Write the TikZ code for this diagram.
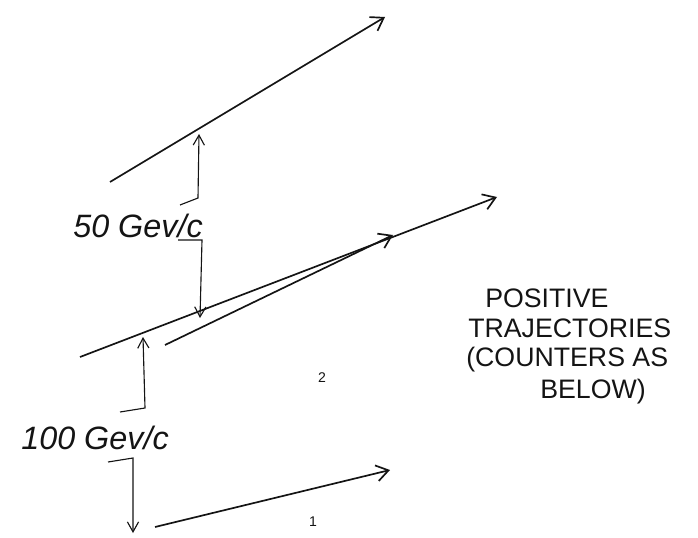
\documentclass[tikz,border=0pt]{standalone}
\usepackage{fontspec}
\setsansfont{Liberation Sans}
\usepackage{tikz}
\usetikzlibrary{arrows.meta,positioning,calc}
\definecolor{ink}{RGB}{20,20,20}
\tikzset{
  track/.style={-{Straight Barb[length=3mm,width=4mm]}, line width=1.2pt, draw=ink},
  gap/.style={-{Straight Barb[length=2.5mm,width=2.8mm]}, line width=0.8pt, draw=ink},
  handlabel/.style={font=\sffamily\itshape\fontsize{23}{26}\selectfont, text=ink, inner sep=1pt},
  notelabel/.style={font=\sffamily\fontsize{19}{22}\selectfont, text=ink, anchor=west, inner sep=0pt},
  counter/.style={font=\sffamily\fontsize{10}{12}\selectfont, text=ink}
}

\begin{document}
\begin{tikzpicture}[x=0.025cm, y=-0.025cm]
\useasboundingbox (0,0) rectangle (698,538);
% trajectories
\coordinate (t1s) at (110,182);
\coordinate (t1e) at (385,17);
\coordinate (t2s) at (80,357);
\coordinate (t2e) at (497,197);
\coordinate (t3s) at (165,345);
\coordinate (t3e) at (393,235);
\coordinate (t4s) at (155,527);
\coordinate (t4e) at (390,470);
\draw[track] (t1s) -- (t1e);
\draw[track] (t2s) -- (t2e);
\draw[track] (t3s) -- (t3e);
\draw[track] (t4s) -- (t4e);

% momentum labels
\node[handlabel] (p50) at (138,226) {50 Gev/c};
\node[handlabel] (p100) at (95,438) {100 Gev/c};
\coordinate (h50a) at (180,205);
\coordinate (h50b) at (198,198);
\coordinate (up50) at (199,134);
\coordinate (h50c) at (178,240);
\coordinate (h50d) at (202,240);
\coordinate (dn50) at (200,318);
\coordinate (h100a) at (120,412);
\coordinate (h100b) at (145,408);
\coordinate (up100) at (143,337);
\coordinate (h100c) at (108,462);
\coordinate (h100d) at (133,458);
\coordinate (dn100) at (133,533);
\draw[gap] (h50a) -- (h50b) -- (up50);
\draw[gap] (h50c) -- (h50d) -- (dn50);
\draw[gap] (h100a) -- (h100b) -- (up100);
\draw[gap] (h100c) -- (h100d) -- (dn100);

% counters
\node[counter] (c2) at (322,378) {2};
\node[counter] (c1) at (313,522) {1};

% note
\node[notelabel] (n1) at (485,298) {POSITIVE};
\node[notelabel] (n2) at (468,328) {TRAJECTORIES};
\node[notelabel] (n3) at (466,360) {(COUNTERS AS};
\node[notelabel] (n4) at (540,392) {BELOW)};
\end{tikzpicture}
\end{document}
